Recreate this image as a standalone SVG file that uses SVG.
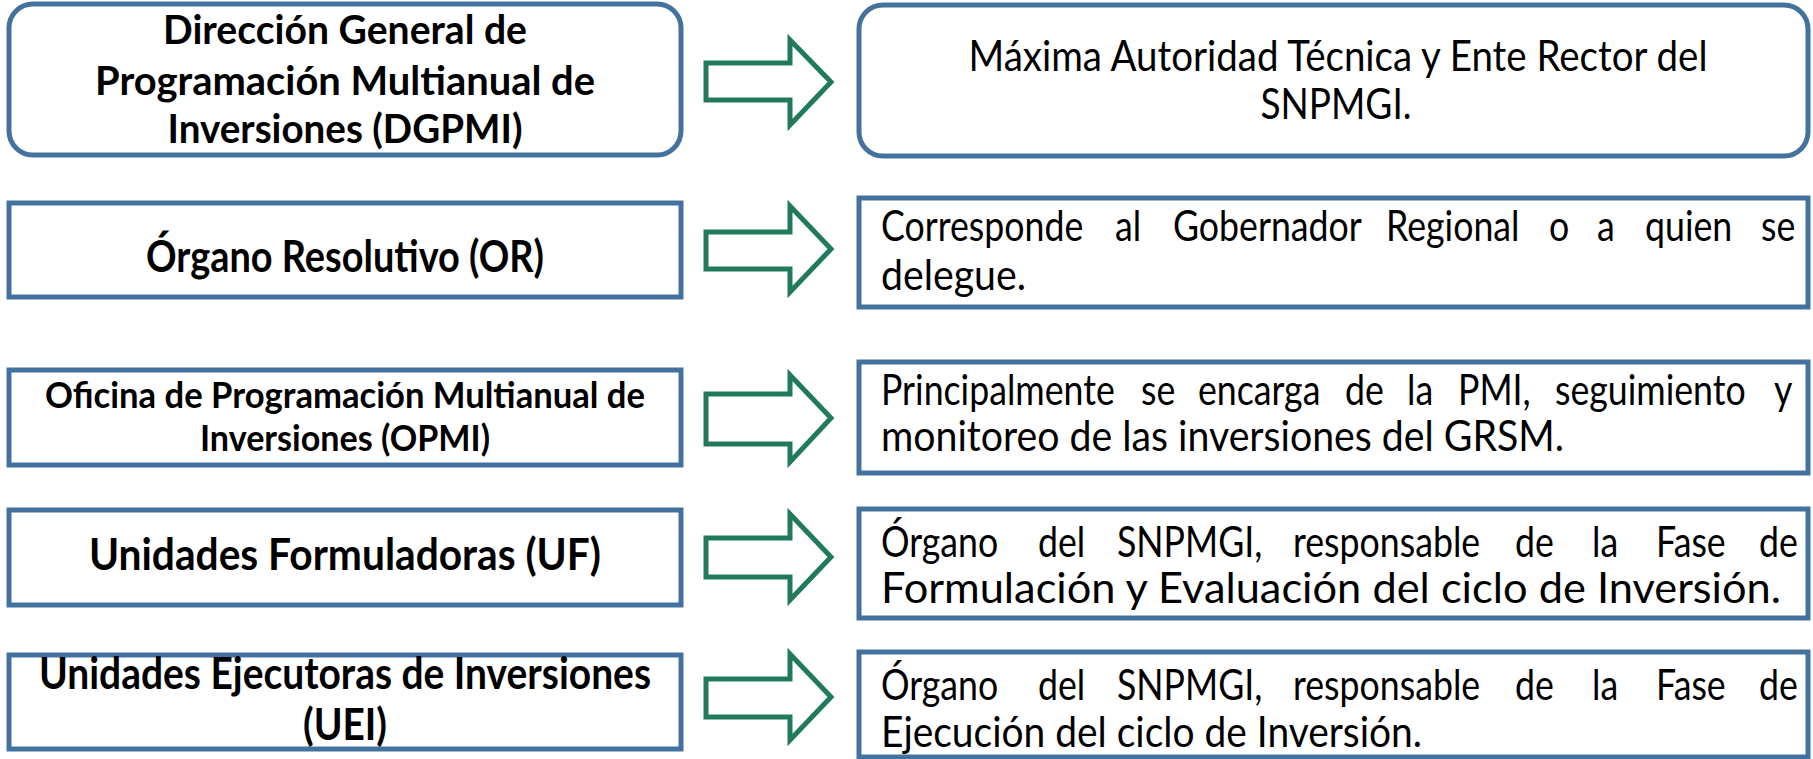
<svg xmlns="http://www.w3.org/2000/svg" width="1813" height="759" viewBox="0 0 1813 759">
<style>
.box{fill:#ffffff;stroke:#44729f;stroke-width:5}
.arr{fill:#ffffff;stroke:#217a5e;stroke-width:5;stroke-linejoin:miter}
.b{font-family:Lato,"Liberation Sans",sans-serif;font-weight:bold;font-size:43px;fill:#000;text-anchor:middle}
.b1{font-size:40px}
.b3{font-size:36px}
.r{font-family:Lato,"Liberation Sans",sans-serif;font-size:42px;fill:#000}
.c{text-anchor:middle}
</style>
<rect width="1813" height="759" fill="#ffffff"/>
<g id="connectors">
<polygon class="arr" points="706,63 790,63 790,40 831,82 790,125 790,100 706,100"/>
<polygon class="arr" points="706,232 790,232 790,206 831,249 790,292 790,269 706,269"/>
<polygon class="arr" points="706,394 790,394 790,375 831,418 790,462 790,444 706,444"/>
<polygon class="arr" points="706,538 790,538 790,514 831,557 790,600 790,577 706,577"/>
<polygon class="arr" points="706,679 790,679 790,654 831,697 790,740 790,717 706,717"/>
</g>
<g id="n-dgpmi">
<rect class="box" x="9" y="4" width="672" height="151" rx="24"/>
<text class="b b1" x="345" y="44" textLength="364" lengthAdjust="spacingAndGlyphs">Dirección General de</text>
<text class="b b1" x="345" y="95" textLength="500" lengthAdjust="spacingAndGlyphs">Programación Multianual de</text>
<text class="b b1" x="345" y="143" textLength="355" lengthAdjust="spacingAndGlyphs">Inversiones (DGPMI)</text>
</g>
<g id="n-dgpmi-desc">
<rect class="box" x="859" y="5" width="949" height="151" rx="24"/>
<text class="r c" x="1338" y="71" textLength="739" lengthAdjust="spacingAndGlyphs">Máxima Autoridad Técnica y Ente Rector del</text>
<text class="r c" x="1336" y="119" textLength="151" lengthAdjust="spacingAndGlyphs">SNPMGI.</text>
</g>
<g id="n-or">
<rect class="box" x="9" y="203" width="672" height="94"/>
<text class="b" x="345" y="272" textLength="398" lengthAdjust="spacingAndGlyphs">Órgano Resolutivo (OR)</text>
</g>
<g id="n-or-desc">
<rect class="box" x="859" y="198" width="949" height="109"/>
<text class="r" transform="translate(881,241) scale(0.85,1)">Corresponde</text>
<text class="r" transform="translate(1115,241) scale(0.85,1)">al</text>
<text class="r" transform="translate(1173,241) scale(0.85,1)">Gobernador</text>
<text class="r" transform="translate(1386,241) scale(0.85,1)">Regional</text>
<text class="r" transform="translate(1549,241) scale(0.85,1)">o</text>
<text class="r" transform="translate(1597,241) scale(0.85,1)">a</text>
<text class="r" transform="translate(1645,241) scale(0.85,1)">quien</text>
<text class="r" transform="translate(1761,241) scale(0.85,1)">se</text>
<text class="r" x="881" y="290" textLength="145" lengthAdjust="spacingAndGlyphs">delegue.</text>
</g>
<g id="n-opmi">
<rect class="box" x="9" y="370" width="672" height="95"/>
<text class="b b3" x="345" y="408" textLength="600" lengthAdjust="spacingAndGlyphs">Oficina de Programación Multianual de</text>
<text class="b b3" x="345" y="451" textLength="290" lengthAdjust="spacingAndGlyphs">Inversiones (OPMI)</text>
</g>
<g id="n-opmi-desc">
<rect class="box" x="859" y="362" width="949" height="111"/>
<text class="r" transform="translate(881,405) scale(0.85,1)">Principalmente</text>
<text class="r" transform="translate(1141,405) scale(0.85,1)">se</text>
<text class="r" transform="translate(1198,405) scale(0.85,1)">encarga</text>
<text class="r" transform="translate(1345,405) scale(0.85,1)">de</text>
<text class="r" transform="translate(1407,405) scale(0.85,1)">la</text>
<text class="r" transform="translate(1458,405) scale(0.85,1)">PMI,</text>
<text class="r" transform="translate(1555,405) scale(0.85,1)">seguimiento</text>
<text class="r" transform="translate(1774,405) scale(0.85,1)">y</text>
<text class="r" x="881" y="451" textLength="683" lengthAdjust="spacingAndGlyphs">monitoreo de las inversiones del GRSM.</text>
</g>
<g id="n-uf">
<rect class="box" x="9" y="510" width="672" height="95"/>
<text class="b" x="345" y="570" textLength="512" lengthAdjust="spacingAndGlyphs">Unidades Formuladoras (UF)</text>
</g>
<g id="n-uf-desc">
<rect class="box" x="859" y="509" width="949" height="109"/>
<text class="r" transform="translate(881,557) scale(0.85,1)">Órgano</text>
<text class="r" transform="translate(1038,557) scale(0.85,1)">del</text>
<text class="r" transform="translate(1117,557) scale(0.85,1)">SNPMGI,</text>
<text class="r" transform="translate(1293,557) scale(0.85,1)">responsable</text>
<text class="r" transform="translate(1515,557) scale(0.85,1)">de</text>
<text class="r" transform="translate(1592,557) scale(0.85,1)">la</text>
<text class="r" transform="translate(1656,557) scale(0.85,1)">Fase</text>
<text class="r" transform="translate(1759,557) scale(0.85,1)">de</text>
<text class="r" x="881" y="603" textLength="900" lengthAdjust="spacingAndGlyphs">Formulación y Evaluación del ciclo de Inversión.</text>
</g>
<g id="n-uei">
<rect class="box" x="9" y="655" width="672" height="94"/>
<text class="b" x="345" y="689" textLength="612" lengthAdjust="spacingAndGlyphs">Unidades Ejecutoras de Inversiones</text>
<text class="b" x="345" y="740" textLength="84" lengthAdjust="spacingAndGlyphs">(UEI)</text>
</g>
<g id="n-uei-desc">
<rect class="box" x="859" y="652" width="949" height="105"/>
<text class="r" transform="translate(881,700) scale(0.85,1)">Órgano</text>
<text class="r" transform="translate(1038,700) scale(0.85,1)">del</text>
<text class="r" transform="translate(1117,700) scale(0.85,1)">SNPMGI,</text>
<text class="r" transform="translate(1293,700) scale(0.85,1)">responsable</text>
<text class="r" transform="translate(1515,700) scale(0.85,1)">de</text>
<text class="r" transform="translate(1592,700) scale(0.85,1)">la</text>
<text class="r" transform="translate(1656,700) scale(0.85,1)">Fase</text>
<text class="r" transform="translate(1759,700) scale(0.85,1)">de</text>
<text class="r" x="881" y="747" textLength="541" lengthAdjust="spacingAndGlyphs">Ejecución del ciclo de Inversión.</text>
</g>
</svg>
